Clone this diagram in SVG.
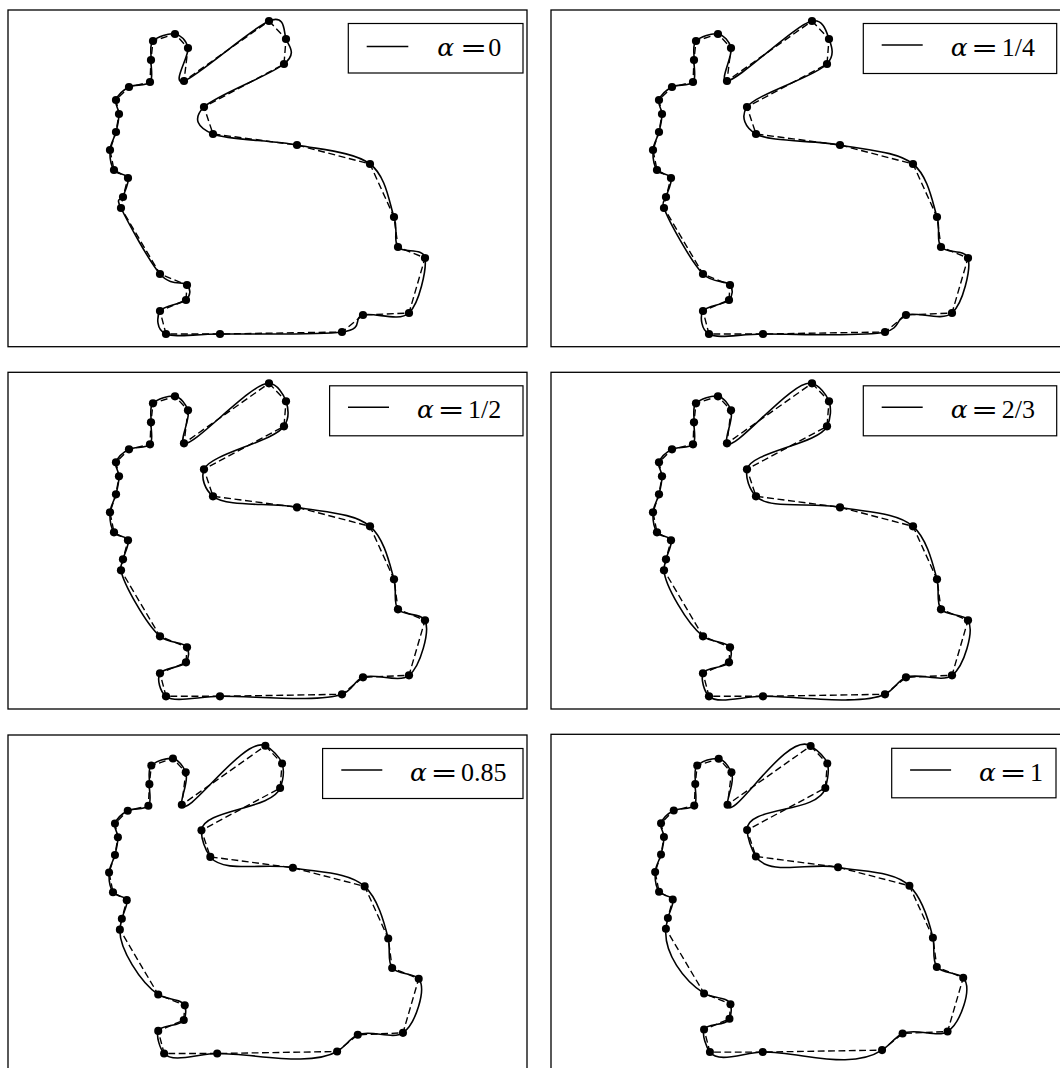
<svg xmlns="http://www.w3.org/2000/svg" xmlns:xlink="http://www.w3.org/1999/xlink" width="1060" height="1068" viewBox="0 0 1060 1068">
<style>
.fr{fill:none;stroke:#000;stroke-width:1.3}
.pl{fill:none;stroke:#000;stroke-width:1.4;stroke-dasharray:7 3.6}
.cv{fill:none;stroke:#000;stroke-width:1.6;stroke-linejoin:round}
.lb{fill:#fff;stroke:#000;stroke-width:1.2}
.ls{stroke:#000;stroke-width:1.6}
.al{font-family:"DejaVu Serif",serif;font-style:italic;font-size:25px}
.eq{font-family:"DejaVu Serif",serif;font-size:25px;text-anchor:middle}
.nm{font-family:"Liberation Serif",serif;font-size:26px}
</style>
<defs>
<polygon id="poly" class="pl" points="261,11 278,29 276,54 196,97 205,124 289,135 362,154 386,207 390,237 417,248 401,303 355,305 334,322 212,324 158,324 152,301 178,290 179,275 152,264 113,198 115,187 120,168 106,160 102,140 108,122 111,104 108,90 121,77 142,72 143,50 145,31 167,24 180,38 176,71"/>
<g id="dots" fill="#000">
<circle cx="261" cy="11" r="4.1"/><circle cx="278" cy="29" r="4.1"/><circle cx="276" cy="54" r="4.1"/><circle cx="196" cy="97" r="4.1"/><circle cx="205" cy="124" r="4.1"/><circle cx="289" cy="135" r="4.1"/><circle cx="362" cy="154" r="4.1"/><circle cx="386" cy="207" r="4.1"/><circle cx="390" cy="237" r="4.1"/><circle cx="417" cy="248" r="4.1"/><circle cx="401" cy="303" r="4.1"/><circle cx="355" cy="305" r="4.1"/><circle cx="334" cy="322" r="4.1"/><circle cx="212" cy="324" r="4.1"/><circle cx="158" cy="324" r="4.1"/><circle cx="152" cy="301" r="4.1"/><circle cx="178" cy="290" r="4.1"/><circle cx="179" cy="275" r="4.1"/><circle cx="152" cy="264" r="4.1"/><circle cx="113" cy="198" r="4.1"/><circle cx="115" cy="187" r="4.1"/><circle cx="120" cy="168" r="4.1"/><circle cx="106" cy="160" r="4.1"/><circle cx="102" cy="140" r="4.1"/><circle cx="108" cy="122" r="4.1"/><circle cx="111" cy="104" r="4.1"/><circle cx="108" cy="90" r="4.1"/><circle cx="121" cy="77" r="4.1"/><circle cx="142" cy="72" r="4.1"/><circle cx="143" cy="50" r="4.1"/><circle cx="145" cy="31" r="4.1"/><circle cx="167" cy="24" r="4.1"/><circle cx="180" cy="38" r="4.1"/><circle cx="176" cy="71" r="4.1"/>
</g>
</defs>
<rect width="1060" height="1068" fill="#fff"/>

<g id="panel-a0">
<rect class="fr" x="8" y="10" width="519" height="336.7"/>
<g transform="translate(8,10)">
<use xlink:href="#poly"/>
<path class="cv" d="M261,11 C278,4 275.5,21.8 278,29 C280.5,36.2 289.7,42.7 276,54 C262.3,65.3 207.8,85.3 196,97 C184.2,108.7 189.5,117.7 205,124 C220.5,130.3 262.8,130 289,135 C315.2,140 345.8,142 362,154 C378.2,166 381.3,193.2 386,207 C390.7,220.8 384.8,230.2 390,237 C395.2,243.8 415.2,237 417,248 C418.8,259 411.3,293.5 401,303 C390.7,312.5 366.2,301.8 355,305 C343.8,308.2 357.8,318.8 334,322 C310.2,325.2 241.3,323.7 212,324 C182.7,324.3 168,327.8 158,324 C148,320.2 148.7,306.7 152,301 C155.3,295.3 173.5,294.3 178,290 C182.5,285.7 183.3,279.3 179,275 C174.7,270.7 163,276.8 152,264 C141,251.2 119.2,210.8 113,198 C106.8,185.2 113.8,192 115,187 C116.2,182 121.5,172.5 120,168 C118.5,163.5 109,164.7 106,160 C103,155.3 101.7,146.3 102,140 C102.3,133.7 106.5,128 108,122 C109.5,116 111,109.3 111,104 C111,98.7 106.3,94.5 108,90 C109.7,85.5 115.3,80 121,77 C126.7,74 138.3,76.5 142,72 C145.7,67.5 142.5,56.8 143,50 C143.5,43.2 141,35.3 145,31 C149,26.7 161.2,22.8 167,24 C172.8,25.2 178.5,30.2 180,38 C181.5,45.8 162.5,75.5 176,71 C189.5,66.5 244,18 261,11 Z"/>
<use xlink:href="#dots"/>
</g>
<rect class="lb" x="348.3" y="23.5" width="174.7" height="49.5"/>
<line class="ls" x1="366.7" y1="46.5" x2="408.3" y2="46.5"/>
<text class="al" x="437.3" y="56">α</text><text class="eq" transform="translate(473.5,56) scale(1.3,1)">=</text><text class="nm" x="488.3" y="56">0</text>
</g>

<g id="panel-a14">
<rect class="fr" x="551" y="10" width="512" height="336.7"/>
<g transform="translate(551,10)">
<use xlink:href="#poly"/>
<path class="cv" d="M261,11 C272.5,8.8 275.5,21.8 278,29 C280.5,36.2 284.5,44.8 276,54 C264.3,66.7 205.1,84 196,97 C189.2,106.7 194.1,117.7 205,124 C219.3,132.3 262.8,130 289,135 C315.2,140 345.8,141.2 362,154 C377.2,166 381.5,192.5 386,207 C389.8,219.3 384.8,230.2 390,237 C395.2,243.8 414.2,238.9 417,248 C420.3,258.7 411.9,293.7 401,303 C390.7,311.8 366.4,301.2 355,305 C345,308.3 349.5,318.5 334,322 C311.4,327.2 242.4,323.7 212,324 C187.2,324.2 167.4,329.2 158,324 C150.3,319.8 148.7,306.7 152,301 C155.3,295.3 173.8,294.9 178,290 C181.7,285.9 182.4,279.2 179,275 C175.1,270 161.5,273.7 152,264 C139.9,251.7 117.3,210.1 113,198 C110.3,190.5 113.8,192 115,187 C116.2,182 121.5,172.5 120,168 C118.5,163.5 109,164.7 106,160 C103,155.3 101.7,146.3 102,140 C102.3,133.7 106.5,128 108,122 C109.5,116 111,109.3 111,104 C111,98.7 106.3,94.5 108,90 C109.7,85.5 115.3,80 121,77 C126.7,74 138.3,76.5 142,72 C145.7,67.5 142.5,56.8 143,50 C143.5,43.2 141,35.3 145,31 C149,26.7 161.2,22.8 167,24 C172.8,25.2 178.3,31 180,38 C182.1,46 167.6,71.2 176,71 C187.2,70.8 244.6,14.2 261,11 Z"/>
<use xlink:href="#dots"/>
</g>
<rect class="lb" x="863.3" y="23.5" width="193.4" height="50"/>
<line class="ls" x1="881.7" y1="45" x2="922.7" y2="45"/>
<text class="al" x="950.7" y="56">α</text><text class="eq" transform="translate(984.7,56) scale(1.3,1)">=</text><text class="nm" x="1001.7" y="56">1/4</text>
</g>

<g id="panel-a12">
<rect class="fr" x="8" y="372.3" width="519" height="336.7"/>
<g transform="translate(8,372.3)">
<use xlink:href="#poly"/>
<path class="cv" d="M261,11 C269.4,11.8 275.5,21.8 278,29 C280.5,36.2 281.3,46 276,54 C266,69.3 202.2,81.6 196,97 C192.6,105.7 197.1,117.5 205,124 C218.6,135.2 262.8,130 289,135 C315.2,140 345.8,140.3 362,154 C376.3,166 381.6,191.5 386,207 C389.2,218.2 384.8,230.2 390,237 C395.2,243.8 413.3,240.4 417,248 C422.2,258.6 412.5,293.9 401,303 C390.7,311.1 366.8,300.5 355,305 C346,308.4 344.9,318.1 334,322 C310.9,330.4 244.5,323.7 212,324 C190.4,324.2 167,330.9 158,324 C152,319.4 148.7,306.7 152,301 C155.3,295.3 174.1,295.5 178,290 C180.9,286 181.5,279 179,275 C175.5,269.4 160.6,271.4 152,264 C138,251.9 115.3,211 113,198 C112.1,193 114.1,191.1 115,187 C116.2,181.5 121.5,172.5 120,168 C118.5,163.5 109,164.7 106,160 C103,155.3 101.7,146.3 102,140 C102.3,133.7 106.5,128 108,122 C109.5,116 111,109.3 111,104 C111,98.7 106.3,94.5 108,90 C109.7,85.5 115.3,80 121,77 C126.7,74 138.3,76.5 142,72 C145.7,67.5 142.5,56.8 143,50 C143.5,43.2 141,35.3 145,31 C149,26.7 161.2,22.8 167,24 C172.8,25.2 178,31.8 180,38 C182.7,46.2 171.1,68.1 176,71 C184.7,76.2 243.9,9.3 261,11 Z"/>
<use xlink:href="#dots"/>
</g>
<rect class="lb" x="329.6" y="385.8" width="193.4" height="50"/>
<line class="ls" x1="348" y1="407.3" x2="389" y2="407.3"/>
<text class="al" x="417" y="418.3">α</text><text class="eq" transform="translate(451,418.3) scale(1.3,1)">=</text><text class="nm" x="468" y="418.3">1/2</text>
</g>

<g id="panel-a23">
<rect class="fr" x="551" y="372.3" width="512" height="336.7"/>
<g transform="translate(551,372.3)">
<use xlink:href="#poly"/>
<path class="cv" d="M261,11 C268.1,13.2 275.5,21.8 278,29 C280.5,36.2 279.8,46.3 276,54 C267,72.1 200,79.2 196,97 C194.2,105.3 198.6,117.4 205,124 C218.3,137.7 261.3,129.5 289,135 C313.6,139.9 345.7,139.6 362,154 C375.8,166 381.6,190.7 386,207 C388.8,217.6 384.8,230.2 390,237 C395.2,243.8 412.8,241.2 417,248 C423.6,258.7 413,294.1 401,303 C390.7,310.7 367.2,300 355,305 C346.5,308.5 343.1,317.8 334,322 C309.1,333.5 246.5,323.8 212,324 C191.9,324.1 166.8,332.4 158,324 C152.9,319.1 149.8,306.6 152,301 C154.7,294.4 174.3,296.1 178,290 C180.5,286 181.1,279 179,275 C175.8,268.7 160.3,270.4 152,264 C136.3,251.9 113.9,213.1 113,198 C112.7,193.8 114.1,191.1 115,187 C116.2,181.5 121.5,172.5 120,168 C118.5,163.5 109,164.7 106,160 C103,155.3 101.7,146.3 102,140 C102.3,133.7 106.5,128 108,122 C109.5,116 111,109.3 111,104 C111,98.7 106.3,94.5 108,90 C109.7,85.5 115.3,80 121,77 C126.7,74 138.3,76.5 142,72 C145.7,67.5 142.5,56.8 143,50 C143.5,43.2 141,35.3 145,31 C149,26.7 161.2,22.8 167,24 C172.8,25.2 177.8,32.1 180,38 C183.2,46.5 172.7,66.5 176,71 C183.1,80.7 242.5,5.3 261,11 Z"/>
<use xlink:href="#dots"/>
</g>
<rect class="lb" x="863.3" y="385.8" width="193.4" height="50"/>
<line class="ls" x1="881.7" y1="407.3" x2="922.7" y2="407.3"/>
<text class="al" x="950.7" y="418.3">α</text><text class="eq" transform="translate(984.7,418.3) scale(1.3,1)">=</text><text class="nm" x="1001.7" y="418.3">2/3</text>
</g>

<g id="panel-a085">
<rect class="fr" x="8" y="735" width="519" height="340"/>
<g transform="translate(8.8,735) scale(0.983)">
<use xlink:href="#poly"/>
<path class="cv" d="M261,11 C267.3,14.3 275.5,21.8 278,29 C280.5,36.2 278.7,46.6 276,54 C267.8,76.2 197.4,75.5 196,97 C195.5,105 199.7,117.1 205,124 C218.4,141.3 261.3,129.5 289,135 C313.6,139.9 345.6,138.9 362,154 C375.2,166.1 381.6,189.5 386,207 C388.5,217.1 384.8,230.2 390,237 C395.2,243.8 412.3,241.9 417,248 C425.3,258.8 413.5,294.2 401,303 C390.6,310.3 367.7,299.3 355,305 C346.9,308.6 341.9,317.5 334,322 C305.4,338.1 249.6,323.8 212,324 C193.2,324.1 166.7,334.3 158,324 C153.7,318.9 149.8,306.6 152,301 C154.7,294.4 174.5,296.8 178,290 C180.1,286.1 180.7,278.9 179,275 C176.1,268 160,269.5 152,264 C133.8,251.5 112.3,217.3 113,198 C113.2,194.2 114.2,190.7 115,187 C116.4,180.6 121.5,172.5 120,168 C118.5,163.5 109,164.7 106,160 C103,155.3 101.7,146.3 102,140 C102.3,133.7 106.5,128 108,122 C109.5,116 111,109.3 111,104 C111,98.7 106.3,94.5 108,90 C109.7,85.5 115.3,80 121,77 C126.7,74 138.3,76.5 142,72 C145.7,67.5 142.5,56.8 143,50 C143.5,43.2 141,35.3 145,31 C149,26.7 161.2,22.8 167,24 C172.8,25.2 177.7,32.4 180,38 C183.7,46.8 174,65.1 176,71 C181.2,86.5 239.7,-0.2 261,11 Z"/>
<use xlink:href="#dots"/>
</g>
<rect class="lb" x="322.6" y="748.5" width="200.4" height="50"/>
<line class="ls" x1="341.3" y1="770" x2="382.3" y2="770"/>
<text class="al" x="410" y="781">α</text><text class="eq" transform="translate(444,781) scale(1.3,1)">=</text><text class="nm" x="461" y="781">0.85</text>
</g>

<g id="panel-a1">
<rect class="fr" x="551" y="734.3" width="512" height="340"/>
<g transform="translate(555.4,735.2) scale(0.978)">
<use xlink:href="#poly"/>
<path class="cv" d="M261,11 C266.9,14.9 275.5,21.8 278,29 C280.5,36.2 278.1,46.6 276,54 C268.3,80.8 195.1,71.7 196,97 C196.3,104.9 200.4,117 205,124 C218.7,145 261.3,129.5 289,135 C313.6,139.9 345.6,138.3 362,154 C374.7,166.1 381.6,188.3 386,207 C388.3,216.7 384.8,230.2 390,237 C395.2,243.8 412,242.4 417,248 C426.9,259 414,294.4 401,303 C390.6,309.9 368.2,298.7 355,305 C347.3,308.7 341.4,317.3 334,322 C300.8,343.1 252.6,323.8 212,324 C194,324.1 166.7,336.1 158,324 C154.2,318.7 149.8,306.6 152,301 C154.7,294.4 174.6,297.4 178,290 C179.8,286.1 180.4,278.9 179,275 C176.4,267.4 159.9,269 152,264 C131.3,251 110.7,222.7 113,198 C113.3,194.4 114.2,190.7 115,187 C116.4,180.6 121.5,172.5 120,168 C118.5,163.5 109,164.7 106,160 C103,155.3 101.7,146.3 102,140 C102.3,133.7 106.5,128 108,122 C109.5,116 111,109.3 111,104 C111,98.7 106.3,94.5 108,90 C109.7,85.5 115.3,80 121,77 C126.7,74 138.3,76.5 142,72 C145.7,67.5 142.5,56.8 143,50 C143.5,43.2 141,35.3 145,31 C149,26.7 161.2,22.8 167,24 C172.8,25.2 177.5,32.7 180,38 C184.3,47.2 174.8,64.2 176,71 C179.7,92.3 236.3,-5.5 261,11 Z"/>
<use xlink:href="#dots"/>
</g>
<rect class="lb" x="891.7" y="748.3" width="164.3" height="49.5"/>
<line class="ls" x1="910.1" y1="770" x2="951.1" y2="770"/>
<text class="al" x="979.1" y="781">α</text><text class="eq" transform="translate(1013.1,781) scale(1.3,1)">=</text><text class="nm" x="1030.1" y="781">1</text>
</g>
</svg>
